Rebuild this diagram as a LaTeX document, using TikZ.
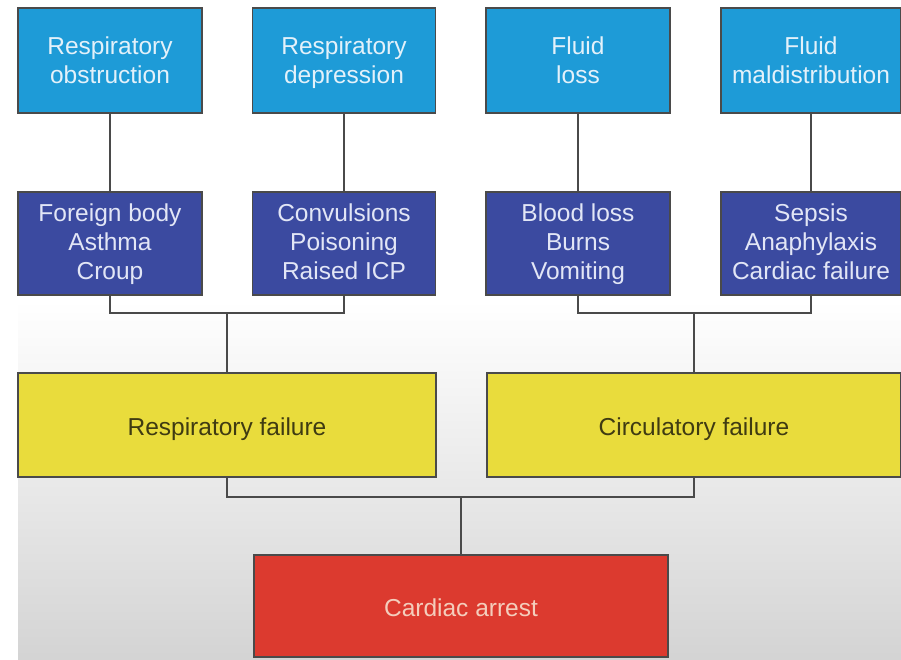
\documentclass[tikz,border=0pt]{standalone}
\usepackage{fontspec}
\setmainfont{Liberation Sans}
\definecolor{lblue}{HTML}{1E9BD7}
\definecolor{dblue}{HTML}{3B4AA0}
\definecolor{yell}{HTML}{E9DC3C}
\definecolor{redb}{HTML}{DC3A2F}
\definecolor{edge}{HTML}{4A4A4A}
\definecolor{ltxt}{HTML}{E3F1FA}
\definecolor{dtxt}{HTML}{E2E6F6}
\definecolor{ytxt}{HTML}{3F3B12}
\definecolor{rtxt}{HTML}{F4CDBC}
\tikzset{
  box/.style={rectangle, draw=edge, line width=1.2pt, align=center, inner sep=0pt,
    font=\fontsize{24.5}{29}\selectfont, text depth=0pt},
  cause/.style={box, fill=lblue, text=ltxt, minimum height=105pt, text height=46.5pt},
  example/.style={box, fill=dblue, text=dtxt, minimum height=103pt, text height=72.5pt},
  failure/.style={box, fill=yell, text=ytxt, minimum height=104pt, text height=21pt},
  arrest/.style={box, fill=redb, text=rtxt, minimum height=102pt, text height=21pt},
  link/.style={draw=edge, line width=1.8pt}
}
\begin{document}
\begin{tikzpicture}[x=1pt,y=-1pt]
\useasboundingbox (0,0) rectangle (901,660);
\fill[white] (0,0) rectangle (901,660);
\shade[top color=white, bottom color=black!17] (18,300) rectangle (901,660);
% row 1
\node[cause, minimum width=184pt] (a1) at (110,60.5) {Respiratory\\obstruction};
\node[cause, minimum width=183pt] (a2) at (344,60.5) {Respiratory\\depression};
\node[cause, minimum width=184pt] (a3) at (578,60.5) {Fluid\\loss};
\node[cause, minimum width=180pt] (a4) at (811,60.5) {Fluid\\maldistribution};
% row 2
\node[example, minimum width=184pt] (c1) at (110,243.5) {Foreign body\\Asthma\\Croup};
\node[example, minimum width=183pt] (c2) at (344,243.5) {Convulsions\\Poisoning\\Raised ICP};
\node[example, minimum width=184pt] (c3) at (578,243.5) {Blood loss\\Burns\\Vomiting};
\node[example, minimum width=180pt] (c4) at (811,243.5) {Sepsis\\Anaphylaxis\\Cardiac failure};
% row 3
\node[failure, minimum width=418pt] (f1) at (227,425) {Respiratory failure};
\node[failure, minimum width=414pt] (f2) at (694,425) {Circulatory failure};
% row 4
\node[arrest, minimum width=414pt] (r) at (461,606) {Cardiac arrest};
% junctions
\coordinate (j1) at (f1.north |- 0,313);
\coordinate (j2) at (f2.north |- 0,313);
\coordinate (j3) at (r.north |- 0,497);
% connectors
\draw[link] (a1) -- (c1);
\draw[link] (a2) -- (c2);
\draw[link] (a3) -- (c3);
\draw[link] (a4) -- (c4);
\draw[link] (c1.south) |- (j1) -| (c2.south);
\draw[link] (j1) -- (f1.north);
\draw[link] (c3.south) |- (j2) -| (c4.south);
\draw[link] (j2) -- (f2.north);
\draw[link] (f1.south) |- (j3) -| (f2.south);
\draw[link] (j3) -- (r.north);
\end{tikzpicture}
\end{document}
